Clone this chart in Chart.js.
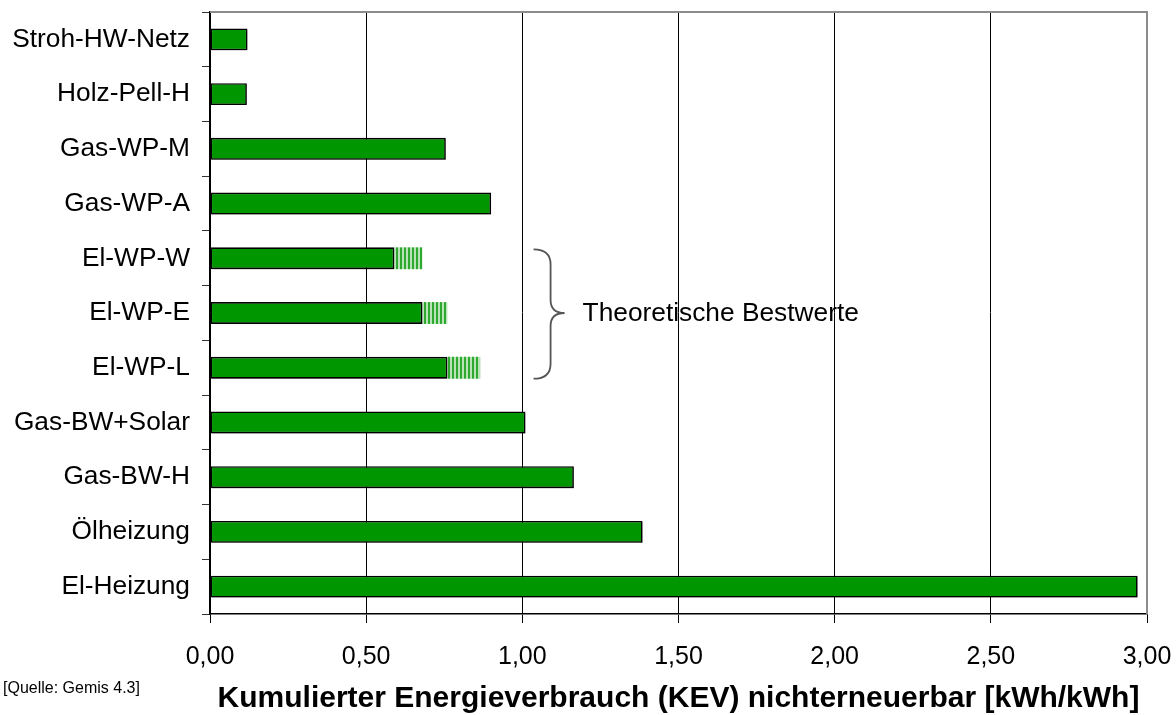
<!DOCTYPE html>
<html>
<head>
<meta charset="utf-8">
<script src="https://cdn.jsdelivr.net/npm/chart.js@4/dist/chart.umd.min.js"></script>
<style>
  html, body { margin: 0; padding: 0; background: #fff; }
  #wrap { width: 1176px; height: 715px; position: relative; }
</style>
</head>
<body>
<div id="wrap"><canvas id="c" width="1176" height="715"></canvas></div>
<script>
// ---- data ----
const categories = ["Stroh-HW-Netz", "Holz-Pell-H", "Gas-WP-M", "Gas-WP-A", "El-WP-W", "El-WP-E", "El-WP-L", "Gas-BW+Solar", "Gas-BW-H", "Ölheizung", "El-Heizung"];
const kevValues = [0.12, 0.118, 0.755, 0.90, 0.59, 0.68, 0.76, 1.01, 1.165, 1.385, 2.97];
const bestValueExtra = [0, 0, 0, 0, 0.09, 0.08, 0.105, 0, 0, 0, 0];
const xTicks = [0, 0.5, 1.0, 1.5, 2.0, 2.5, 3.0];
const annotationText = "Theoretische Bestwerte";
const sourceText = "[Quelle: Gemis 4.3]";
const axisTitle = "Kumulierter Energieverbrauch (KEV) nichterneuerbar [kWh/kWh]";

const FONT = "Arial, 'Liberation Sans', sans-serif";

// stripe pattern for theoretical best values
const pc = document.createElement('canvas');
pc.width = 4; pc.height = 8;
const pctx = pc.getContext('2d');
pctx.fillStyle = '#b8e4b8'; pctx.fillRect(0, 0, 4, 8);
pctx.fillStyle = '#2fa82f'; pctx.fillRect(0, 0, 2, 8);
const ctx0 = document.getElementById('c').getContext('2d');
const stripePattern = ctx0.createPattern(pc, 'repeat');

const extrasPlugin = {
  id: 'extras',
  beforeDatasetDraw(chart, args) {
    if (args.index === 0) {
      const c = chart.ctx;
      c.save();
      c.shadowColor = 'rgba(0,0,0,0.35)';
      c.shadowOffsetX = 1.5;
      c.shadowOffsetY = 1.5;
      c.shadowBlur = 0;
    }
  },
  afterDatasetDraw(chart, args) {
    if (args.index === 0) chart.ctx.restore();
  },
  afterDraw(chart) {
    const c = chart.ctx;
    const a = chart.chartArea;
    const xs = chart.scales.x, ys = chart.scales.y;
    c.save();
    // top and right border (gray)
    c.strokeStyle = '#8c8c8c';
    c.lineWidth = 2;
    c.beginPath();
    c.moveTo(a.left, a.top);
    c.lineTo(a.right, a.top);
    c.lineTo(a.right, a.bottom);
    c.stroke();

    // brace
    const step = ys.getPixelForValue(1) - ys.getPixelForValue(0);
    const yTop = ys.getPixelForValue(4) - step * 0.2 + 2;
    const yBot = ys.getPixelForValue(6) + step * 0.2;
    const yMid = ys.getPixelForValue(5);
    const x0 = xs.getPixelForValue(1.036);
    const xs1 = x0 + 17;
    const xt = x0 + 31;
    c.strokeStyle = '#555';
    c.lineWidth = 1.8;
    c.beginPath();
    c.moveTo(x0, yTop);
    c.quadraticCurveTo(xs1, yTop, xs1, yTop + 15);
    c.lineTo(xs1, yMid - 13);
    c.quadraticCurveTo(xs1, yMid, xt, yMid);
    c.quadraticCurveTo(xs1, yMid, xs1, yMid + 13);
    c.lineTo(xs1, yBot - 15);
    c.quadraticCurveTo(xs1, yBot, x0, yBot);
    c.stroke();

    c.fillStyle = '#000';
    c.font = '26.3px ' + FONT;
    c.textAlign = 'left';
    c.textBaseline = 'middle';
    c.fillText(annotationText, xt + 18, yMid + 1);

    c.font = '16px ' + FONT;
    c.fillText(sourceText, 3, 689);
    c.restore();
  }
};

new Chart(ctx0, {
  type: 'bar',
  data: {
    labels: categories,
    datasets: [
      {
        data: kevValues,
        backgroundColor: '#009600',
        borderColor: '#000',
        borderWidth: 1.6,
        borderSkipped: false,
        barPercentage: 0.8,
        categoryPercentage: 0.5
      },
      {
        data: bestValueExtra,
        backgroundColor: stripePattern,
        borderWidth: 0,
        barPercentage: 0.8,
        categoryPercentage: 0.5
      }
    ]
  },
  options: {
    indexAxis: 'y',
    responsive: false,
    animation: false,
    devicePixelRatio: 1,
    layout: { padding: { top: 12, right: 29, left: 0, bottom: 0 } },
    plugins: { legend: { display: false }, tooltip: { enabled: false } },
    scales: {
      x: {
        stacked: true,
        min: 0, max: 3,
        afterBuildTicks(scale) { scale.ticks = xTicks.map(v => ({ value: v })); },
        afterFit(scale) { scale.height = 101; scale.paddingLeft = 0; scale.paddingRight = 0; },
        border: { color: '#000', width: 1.5 },
        grid: {
          color: (ctx) => (ctx.tick && ctx.tick.value === 3) ? 'rgba(0,0,0,0)' : '#000',
          lineWidth: 1,
          tickColor: '#000',
          tickLength: 9,
          drawTicks: true
        },
        ticks: {
          color: '#000',
          font: { family: FONT, size: 25 },
          padding: 19,
          maxRotation: 0,
          callback: (v) => Number(v).toFixed(2).replace('.', ',')
        },
        title: {
          display: true,
          text: axisTitle,
          color: '#000',
          font: { family: FONT, size: 30, weight: 'bold' },
          padding: { top: 0, bottom: -2 }
        }
      },
      y: {
        stacked: true,
        afterFit(scale) { scale.width = 210; scale.paddingTop = 0; scale.paddingBottom = 0; },
        border: { color: '#000', width: 1.5 },
        grid: {
          offset: true,
          drawOnChartArea: false,
          tickColor: '#333',
          tickLength: 8
        },
        ticks: {
          color: '#000',
          font: { family: FONT, size: 26.3 },
          padding: 12
        }
      }
    }
  },
  plugins: [extrasPlugin]
});
</script>
</body>
</html>
